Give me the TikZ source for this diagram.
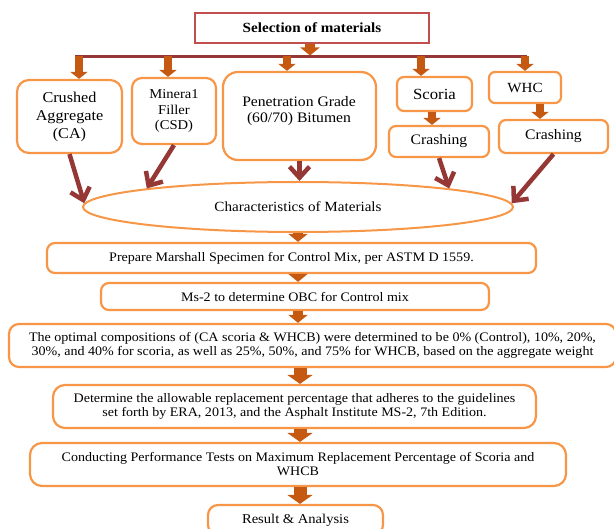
\documentclass[tikz,border=0pt]{standalone}
\usepackage{fontspec}
\setmainfont{Liberation Serif}[FakeStretch=1.08]
\usetikzlibrary{arrows.meta,shapes.geometric}
\definecolor{boxor}{HTML}{F79646}
\definecolor{arrc}{HTML}{C65911}
\definecolor{dred}{HTML}{953735}
\definecolor{topred}{HTML}{C0504D}
\newcommand{\fsz}[2]{\fontsize{#1}{#2}\selectfont}
\begin{document}
\begin{tikzpicture}[x=1pt,y=-1pt,
  box/.style={draw=boxor, line width=2.2pt, rounded corners=#1, align=center, inner sep=0pt},
  box/.default=8pt,
  blkS/.style={arrc, line width=8pt, -{Triangle[width=17pt,length=7pt]}},
  blkM/.style={arrc, line width=10pt, -{Triangle[width=19pt,length=8pt]}},
  blkL/.style={arrc, line width=13pt, -{Triangle[width=25pt,length=9pt]}},
  redarr/.style={dred, line width=4.5pt, -{Straight Barb[length=11pt,width=20pt]}},
]
\clip (0,0) rectangle (614,529);

% top
\node[draw=topred, line width=2pt, minimum width=234pt, minimum height=30pt, inner sep=0pt, font=\fsz{14}{16}\bfseries] (sel) at (312,28) {Selection of materials};

\node[box=12pt, minimum width=105pt, minimum height=73pt, font=\fsz{15}{18}] (ca) at (69.5,116.5) {Crushed\\Aggregate\\(CA)};
\node[box=10pt, minimum width=84pt, minimum height=66pt, font=\fsz{13.5}{15.5}] (min) at (174,111) {Minera1\\Filler\\(CSD)};
\node[box=15pt, minimum width=153pt, minimum height=88pt] (pen) at (299.5,116) {};
\node[font=\fsz{14.5}{16}, align=center, inner sep=0pt] (pent) at (299,111) {Penetration Grade\\(60/70) Bitumen};
\node[box=7pt, minimum width=75pt, minimum height=34pt, font=\fsz{15.5}{17}] (sco) at (434.5,94) {Scoria};
\node[box=7pt, minimum width=100pt, minimum height=31pt, font=\fsz{14.5}{16}] (crs) at (439,141.5) {Crashing};
\node[box=6pt, minimum width=72pt, minimum height=31pt, font=\fsz{14}{16}] (whc) at (525,87.5) {WHC};
\node[box=7pt, minimum width=109pt, minimum height=33pt, font=\fsz{14.5}{16}] (crw) at (553.5,136.5) {Crashing};

\node[ellipse, draw=boxor, line width=2pt, minimum width=430pt, minimum height=50pt, inner sep=0pt, font=\fsz{14}{16}] (ell) at (298,207) {Characteristics of Materials};

\node[box=8pt, minimum width=489pt, minimum height=30pt, font=\fsz{13}{14.5}] (prep) at (291.5,258) {Prepare Marshall Specimen for Control Mix, per ASTM D 1559.};
\node[box=8pt, minimum width=388pt, minimum height=27pt, font=\fsz{13}{14.5}] (ms) at (295,296.5) {Ms-2 to determine OBC for Control mix};
\node[box=10pt, minimum width=607pt, minimum height=43pt, font=\fsz{13}{14}] (opt) at (312.5,345.5) {The optimal compositions of (CA scoria \& WHCB) were determined to be 0\% (Control), 10\%, 20\%,\\30\%, and 40\% for scoria, as well as 25\%, 50\%, and 75\% for WHCB, based on the aggregate weight};
\node[box=12pt, minimum width=483pt, minimum height=43pt, font=\fsz{13}{14.5}] (det) at (294.5,406.5) {Determine the allowable replacement percentage that adheres to the guidelines\\set forth by ERA, 2013, and the Asphalt Institute MS-2, 7th Edition.};
\node[box=12pt, minimum width=536pt, minimum height=43pt, font=\fsz{13}{14}] (cond) at (298,464.5) {Conducting Performance Tests on Maximum Replacement Percentage of Scoria and\\WHCB};
\node[box=10pt, minimum width=175pt, minimum height=30pt, font=\fsz{13.5}{15}] (res) at (295.5,520) {Result \& Analysis};

% bar
\coordinate (barL) at (75,56.5);
\coordinate (barR) at (527,56.5);
\draw[dred, line width=3.5pt] (barL) -- (barR);
\coordinate (bs) at (310,55.5);
\coordinate (b1) at (79,56.5);
\coordinate (b2) at (168,56.5);
\coordinate (b3) at (287,56.5);
\coordinate (b4) at (421,56.5);
\coordinate (b5) at (525,56.5);
\draw[blkM] (sel.south -| bs) -- (bs);
\draw[blkS] (b1) -- (b1 |- ca.north);
\draw[blkS] (b2) -- (b2 |- min.north);
\draw[blkS] (b3) -- (b3 |- pen.north);
\draw[blkS] (b4) -- (b4 |- sco.north);
\draw[blkS] (b5) -- (b5 |- whc.north);
\draw[blkS] ([xshift=-2.5pt]sco.south) -- ([xshift=-2.5pt]sco.south |- crs.north);
\draw[blkS] ([xshift=15pt]whc.south) -- ([xshift=15pt]whc.south |- crw.north);

% to ellipse
\draw[redarr] (ca.south) -- (ell.179);
\draw[redarr] (min.south) -- (ell.173);
\draw[redarr] (pen.south) -- (pen.south |- ell.north);
\draw[redarr] (crs.south) -- (ell.7);
\draw[redarr] (crw.south) -- (ell.1);

% main column
\coordinate (col2) at (300,0);
\draw[blkM] (ell.south) -- (ell.south |- prep.north);
\draw[blkM] (prep.south -| ell.south) -- (ms.north -| ell.south);
\draw[blkM] (ms.south -| ell.south) -- (opt.north -| ell.south);
\draw[blkL] (opt.south -| col2) -- (det.north -| col2);
\draw[blkL] (det.south -| col2) -- (cond.north -| col2);
\draw[blkL] (cond.south -| col2) -- (res.north -| col2);
\end{tikzpicture}
\end{document}
